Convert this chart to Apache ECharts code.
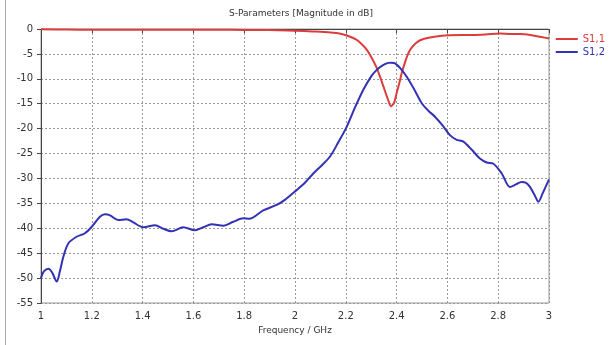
<!DOCTYPE html>
<html>
<head>
<meta charset="utf-8">
<script src="https://cdn.jsdelivr.net/npm/echarts@6/dist/echarts.min.js"></script>
<style>html,body{margin:0;padding:0;background:#fff}#c{width:611px;height:345px}</style>
</head>
<body>
<div id="c"></div>
<script>
var s11Freq = [1.0, 1.1, 1.2, 1.3, 1.4, 1.5, 1.6, 1.7, 1.8, 1.9, 1.94, 2.0, 2.07, 2.14, 2.18, 2.21, 2.24, 2.26, 2.28, 2.3, 2.32, 2.335, 2.35, 2.365, 2.378, 2.39, 2.4, 2.41, 2.42, 2.435, 2.446, 2.46, 2.479, 2.5, 2.531, 2.57, 2.61, 2.66, 2.7, 2.75, 2.807, 2.85, 2.886, 2.937, 2.97, 3.0];
var s11Val = [-0.05, -0.1, -0.15, -0.15, -0.15, -0.15, -0.15, -0.15, -0.2, -0.2, -0.25, -0.35, -0.5, -0.7, -0.95, -1.4, -2.1, -2.9, -4.0, -5.6, -7.6, -9.6, -11.8, -14.0, -15.5, -14.8, -12.9, -11.0, -8.9, -6.4, -4.9, -3.7, -2.7, -2.1, -1.7, -1.4, -1.25, -1.2, -1.2, -1.1, -0.9, -1.0, -1.0, -1.3, -1.6, -1.9];

var s12Freq = [1.0, 1.012, 1.03, 1.045, 1.062, 1.075, 1.088, 1.108, 1.14, 1.173, 1.2, 1.232, 1.252, 1.272, 1.304, 1.337, 1.36, 1.403, 1.449, 1.482, 1.514, 1.56, 1.606, 1.639, 1.672, 1.718, 1.757, 1.797, 1.82, 1.875, 1.928, 1.96, 2.007, 2.04, 2.072, 2.105, 2.138, 2.17, 2.204, 2.235, 2.269, 2.3, 2.322, 2.345, 2.367, 2.38, 2.394, 2.415, 2.44, 2.47, 2.499, 2.525, 2.551, 2.58, 2.61, 2.635, 2.663, 2.695, 2.728, 2.755, 2.78, 2.814, 2.846, 2.87, 2.892, 2.91, 2.925, 2.945, 2.958, 2.975, 3.0];
var s12Val = [-50.0, -48.6, -48.1, -49.0, -50.7, -48.5, -45.7, -43.0, -41.7, -41.0, -39.7, -37.7, -37.2, -37.4, -38.35, -38.2, -38.7, -39.8, -39.4, -40.1, -40.6, -39.8, -40.4, -39.8, -39.2, -39.5, -38.7, -38.0, -38.1, -36.4, -35.3, -34.3, -32.3, -30.8, -29.0, -27.4, -25.6, -22.8, -19.6, -15.9, -12.2, -9.5, -8.2, -7.3, -6.8, -6.75, -6.9, -7.9, -9.6, -12.2, -14.9, -16.4, -17.6, -19.3, -21.3, -22.2, -22.6, -24.2, -26.0, -26.8, -27.0, -29.0, -31.7, -31.2, -30.7, -30.9, -31.7, -33.5, -34.7, -33.0, -30.2];

var xTicks = [1, 1.2, 1.4, 1.6, 1.8, 2, 2.2, 2.4, 2.6, 2.8, 3];
var yTicks = [0, -5, -10, -15, -20, -25, -30, -35, -40, -45, -50, -55];

function zip(a, b) { return a.map(function (v, i) { return [v, b[i]]; }); }

var RED = '#dd3c3c', BLUE = '#3232b4';
var FONT = 'DejaVu Sans';
var chart = echarts.init(document.getElementById('c'), null, {renderer: 'canvas'});
chart.setOption({
  animation: false,
  backgroundColor: '#fff',
  title: {
    text: 'S-Parameters [Magnitude in dB]',
    left: 296, top: 4, textAlign: 'center',
    textStyle: {fontFamily: FONT, fontSize: 9, fontWeight: 'normal', color: '#333'}
  },
  legend: {
    right: 1, top: 29, orient: 'vertical', itemGap: 3,
    icon: 'rect', itemWidth: 22, itemHeight: 2,
    textStyle: {fontFamily: FONT, fontSize: 10},
    data: [
      {name: 'S1,1', textStyle: {color: RED}},
      {name: 'S1,2', textStyle: {color: BLUE}}
    ]
  },
  grid: {left: 41, right: 62, top: 29, bottom: 42, show: true, borderColor: '#999', borderWidth: 1},
  xAxis: {
    type: 'value', min: 1, max: 3, interval: 0.2,
    name: 'Frequency / GHz', nameLocation: 'middle', nameGap: 23,
    nameTextStyle: {fontFamily: FONT, fontSize: 9, color: '#333'},
    axisLine: {lineStyle: {color: '#444'}},
    axisTick: {show: true, length: 4, lineStyle: {color: '#444'}},
    axisLabel: {fontFamily: FONT, fontSize: 10, color: '#333', margin: 8,
      formatter: function (v) { var r = Math.round(v * 10) / 10; return xTicks.indexOf(r) >= 0 ? String(r) : ''; }},
    splitLine: {show: true, lineStyle: {color: '#999', type: [2, 2], width: 1}}
  },
  yAxis: {
    type: 'value', min: -55, max: 0, interval: 5,
    axisLine: {show: true, lineStyle: {color: '#444'}},
    axisTick: {show: true, length: 4, lineStyle: {color: '#444'}},
    axisLabel: {fontFamily: FONT, fontSize: 10, color: '#333', margin: 8,
      formatter: function (v) { return yTicks.indexOf(v) >= 0 ? String(v) : ''; }},
    splitLine: {show: true, lineStyle: {color: '#999', type: [2, 2], width: 1}}
  },
  graphic: [{
    type: 'line', shape: {x1: 5.5, y1: 0, x2: 5.5, y2: 345},
    style: {stroke: '#aaa', lineWidth: 1}
  }],
  series: [
    {name: 'S1,1', type: 'line', data: zip(s11Freq, s11Val), smooth: 0.3, showSymbol: false,
      lineStyle: {color: RED, width: 2}, itemStyle: {color: RED}},
    {name: 'S1,2', type: 'line', data: zip(s12Freq, s12Val), smooth: 0.3, showSymbol: false,
      lineStyle: {color: BLUE, width: 2}, itemStyle: {color: BLUE}}
  ]
});
</script>
</body>
</html>
